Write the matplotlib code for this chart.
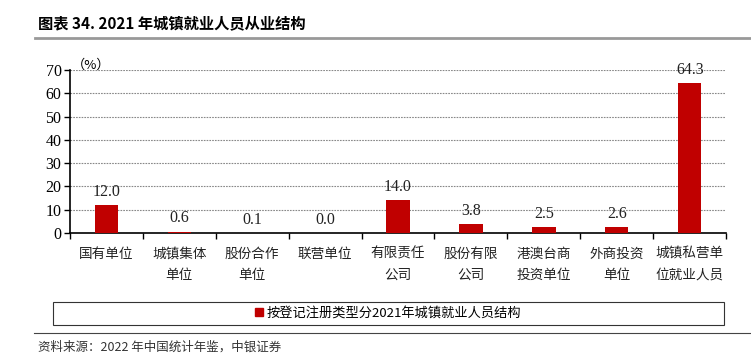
import matplotlib
matplotlib.use("Agg")
import matplotlib.pyplot as plt
from matplotlib.patches import Rectangle
from matplotlib.lines import Line2D

categories = ["国有单位", "城镇集体\n单位", "股份合作\n单位", "联营单位", "有限责任\n公司",
              "股份有限\n公司", "港澳台商\n投资单位", "外商投资\n单位", "城镇私营单\n位就业人员"]
values = [12.0, 0.6, 0.1, 0.0, 14.0, 3.8, 2.5, 2.6, 64.3]
series_name = "按登记注册类型分2021年城镇就业人员结构"
title = "图表 34. 2021 年城镇就业人员从业结构"
source = "资料来源：2022 年中国统计年鉴，中银证券"

RED = "#C00000"
CJK = ["Noto Sans CJK SC", "DejaVu Sans"]
SERIF = ["Liberation Serif", "Noto Sans CJK SC"]

fig = plt.figure(figsize=(7.51, 3.59), dpi=100)
ax = fig.add_axes([0.093, 0.351, 0.874, 0.454])

x = list(range(len(categories)))
ax.bar(x, values, width=0.32, color=RED, zorder=3)
for xi, v in zip(x, values):
    ax.text(xi, v + 2.2, f"{v:.1f}", ha="center", va="bottom", fontsize=11.5,
            family=SERIF, color="#222222")

ax.set_xlim(-0.5, len(categories) - 0.5)
ax.set_ylim(0, 70)
ax.set_yticks(range(0, 71, 10))
ax.set_yticklabels([str(t) for t in range(0, 71, 10)], family=SERIF, fontsize=11.5)
ax.set_xticks([i - 0.5 for i in range(len(categories) + 1)])
ax.set_xticklabels([])
ax.tick_params(axis="x", length=4, direction="out", width=1)
ax.tick_params(axis="y", length=4, direction="out", width=1, pad=2)
for i, c in enumerate(categories):
    ax.text(i, -6, c, ha="center", va="top", fontsize=9.8, family=CJK,
            linespacing=1.6, color="#222222")

ax.grid(axis="y", linestyle=(0, (1.5, 1)), color="#888888", linewidth=0.8, zorder=0)
for s in ["top", "right"]:
    ax.spines[s].set_visible(False)
ax.spines["left"].set_linewidth(1.2)
ax.spines["bottom"].set_linewidth(1.2)
ax.text(-0.47, 72, "（%）", fontsize=9.5, family=CJK, ha="left", va="center")

# title and rule
fig.text(0.05, 0.935, title, fontsize=11, family=CJK, weight="bold", va="center")
fig.add_artist(Line2D([0.047, 1.0], [0.895, 0.895], color="#999999", linewidth=2))

# legend box
fig.add_artist(Rectangle((0.071, 0.095), 0.893, 0.064, transform=fig.transFigure,
                         fill=False, edgecolor="#333333", linewidth=0.8))
handle = Rectangle((0, 0), 1, 1, color=RED)
fig.legend([handle], [series_name], loc="center", bbox_to_anchor=(0.517, 0.127),
           frameon=False, prop={"family": CJK, "size": 9.5},
           handlelength=0.6, handleheight=0.6, handletextpad=0.3)

fig.add_artist(Line2D([0.045, 1.0], [0.073, 0.073], color="#444444", linewidth=0.8))
fig.text(0.05, 0.033, source, fontsize=9, family=CJK, style="italic", va="center",
         color="#333333")

fig.savefig("out.png", dpi=100)
